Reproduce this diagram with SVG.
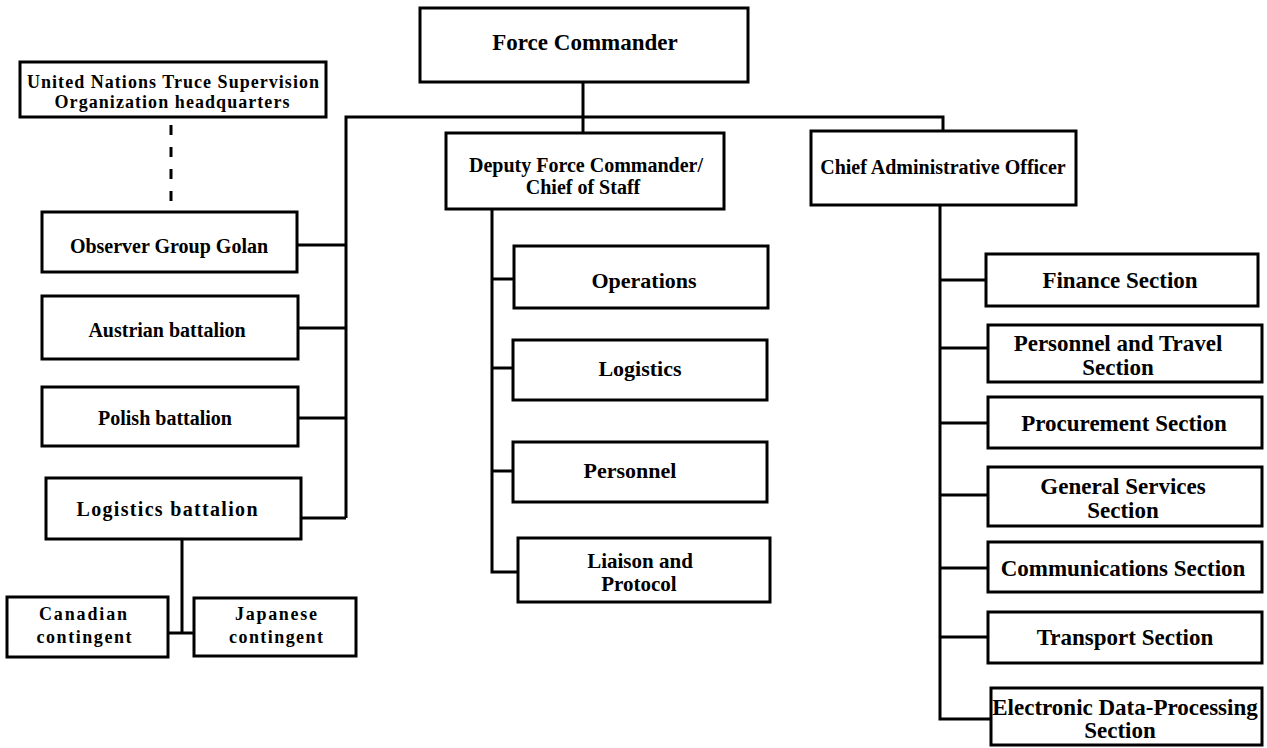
<svg xmlns="http://www.w3.org/2000/svg" width="1267" height="748" viewBox="0 0 1267 748">
<style>
.box{fill:#fff;stroke:#000;stroke-width:3}
.t{font-family:"Liberation Serif","Times New Roman",serif;font-weight:bold;text-anchor:middle;fill:#000}
.s20{font-size:20px}
.s21{font-size:21px}
.s22{font-size:22px}
.s23{font-size:23px}
.s18{font-size:18px}
.c{fill:none;stroke:#000;stroke-width:3}
.d{fill:none;stroke:#000;stroke-width:3;stroke-dasharray:10 12}
</style>
<rect width="1267" height="748" fill="#fff"/>
<g id="connectors">
<polyline class="c" points="583,82 583,133"/>
<polyline class="c" points="346,518 346,117 943,117 943,131"/>
<line class="c" x1="297" y1="245" x2="346" y2="245"/>
<line class="c" x1="298" y1="328" x2="346" y2="328"/>
<line class="c" x1="298" y1="418" x2="346" y2="418"/>
<line class="c" x1="301" y1="518" x2="346" y2="518"/>
<line class="d" x1="171" y1="125" x2="171" y2="207"/>
<polyline class="c" points="182,539 182,633"/>
<line class="c" x1="168" y1="633" x2="194" y2="633"/>
<polyline class="c" points="492,209 492,572 518,572"/>
<line class="c" x1="492" y1="279" x2="514" y2="279"/>
<line class="c" x1="492" y1="368" x2="513" y2="368"/>
<line class="c" x1="492" y1="471" x2="513" y2="471"/>
<polyline class="c" points="940,205 940,719 991,719"/>
<line class="c" x1="940" y1="280" x2="986" y2="280"/>
<line class="c" x1="940" y1="348" x2="988" y2="348"/>
<line class="c" x1="940" y1="423" x2="988" y2="423"/>
<line class="c" x1="940" y1="495" x2="988" y2="495"/>
<line class="c" x1="940" y1="568" x2="988" y2="568"/>
<line class="c" x1="940" y1="637" x2="988" y2="637"/>
</g>
<g id="force-commander"><rect class="box" x="420" y="8" width="328" height="74"/><text class="t s23" x="585" y="50">Force Commander</text></g>
<g id="untso"><rect class="box" x="20" y="62" width="306" height="55"/>
<text class="t s18" x="173" y="88" textLength="292" lengthAdjust="spacing">United  Nations Truce Supervision</text>
<text class="t s18" x="172" y="108" textLength="235" lengthAdjust="spacing">Organization headquarters</text></g>
<g id="observer-group"><rect class="box" x="42" y="212" width="255" height="60"/><text class="t s20" x="169" y="253">Observer Group Golan</text></g>
<g id="austrian"><rect class="box" x="42" y="296" width="256" height="63"/><text class="t s20" x="167" y="337">Austrian battalion</text></g>
<g id="polish"><rect class="box" x="42" y="387" width="256" height="59"/><text class="t s20" x="165" y="425">Polish battalion</text></g>
<g id="logistics-battalion"><rect class="box" x="46" y="478" width="255" height="61"/><text class="t s20" x="167" y="516" textLength="181" lengthAdjust="spacing">Logistics battalion</text></g>
<g id="canadian"><rect class="box" x="7" y="597" width="161" height="60"/>
<text class="t s18" x="83" y="620" textLength="88" lengthAdjust="spacing">Canadian</text>
<text class="t s18" x="84" y="643" textLength="95" lengthAdjust="spacing">contingent</text></g>
<g id="japanese"><rect class="box" x="194" y="598" width="162" height="58"/>
<text class="t s18" x="276" y="620" textLength="82" lengthAdjust="spacing">Japanese</text>
<text class="t s18" x="276" y="643" textLength="94" lengthAdjust="spacing">contingent</text></g>
<g id="deputy"><rect class="box" x="446" y="133" width="278" height="76"/>
<text class="t s20" x="586" y="172">Deputy Force Commander/</text>
<text class="t s20" x="583" y="194">Chief of Staff</text></g>
<g id="operations"><rect class="box" x="514" y="246" width="254" height="62"/><text class="t s22" x="644" y="288">Operations</text></g>
<g id="logistics"><rect class="box" x="513" y="340" width="254" height="60"/><text class="t s22" x="640" y="376">Logistics</text></g>
<g id="personnel"><rect class="box" x="513" y="442" width="254" height="60"/><text class="t s22" x="630" y="478">Personnel</text></g>
<g id="liaison"><rect class="box" x="518" y="538" width="252" height="64"/>
<text class="t s21" x="640" y="568">Liaison and</text>
<text class="t s21" x="639" y="591">Protocol</text></g>
<g id="cao"><rect class="box" x="811" y="131" width="265" height="74"/><text class="t s20" x="943" y="174">Chief Administrative Officer</text></g>
<g id="finance"><rect class="box" x="986" y="254" width="272" height="52"/><text class="t s23" x="1120" y="288">Finance Section</text></g>
<g id="personnel-travel"><rect class="box" x="988" y="325" width="274" height="57"/>
<text class="t s23" x="1118" y="351">Personnel and Travel</text>
<text class="t s23" x="1118" y="375">Section</text></g>
<g id="procurement"><rect class="box" x="988" y="397" width="274" height="51"/><text class="t s23" x="1124" y="431">Procurement Section</text></g>
<g id="general-services"><rect class="box" x="988" y="467" width="274" height="59"/>
<text class="t s23" x="1123" y="494">General Services</text>
<text class="t s23" x="1123" y="518">Section</text></g>
<g id="communications"><rect class="box" x="988" y="542" width="274" height="50"/><text class="t s23" x="1123" y="576">Communications Section</text></g>
<g id="transport"><rect class="box" x="988" y="612" width="274" height="51"/><text class="t s23" x="1125" y="645">Transport Section</text></g>
<g id="edp"><rect class="box" x="991" y="688" width="271" height="57"/>
<text class="t s23" x="1125" y="715">Electronic Data-Processing</text>
<text class="t s23" x="1120" y="738">Section</text></g>
</svg>
